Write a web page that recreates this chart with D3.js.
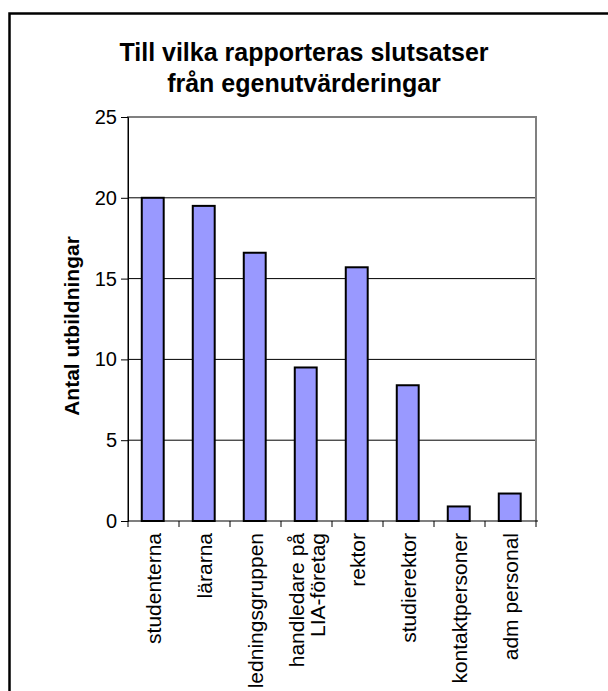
<!DOCTYPE html>
<html>
<head>
<meta charset="utf-8">
<script src="https://cdn.jsdelivr.net/npm/d3@7"></script>
<style>
  html, body { margin: 0; background: #fff; overflow: hidden; }
  svg { display: block; }
  svg text { font-family: Arial, "Liberation Sans", sans-serif; fill: #000; }
</style>
</head>
<body>
<div id="chart"></div>
<script>
const categories = ['studenterna', 'lärarna', 'ledningsgruppen', 'handledare på\nLIA-företag',
  'rektor', 'studierektor', 'kontaktpersoner', 'adm personal'];
const values = [20, 19.5, 16.6, 9.5, 15.7, 8.4, 0.9, 1.7];
const yTicks = [0, 5, 10, 15, 20, 25];
const titleLines = ['Till vilka rapporteras slutsatser', 'från egenutvärderingar'];
const yTitle = 'Antal utbildningar';

const width = 608, height = 691;
const margin = { t: 117, r: 72, b: 170, l: 128 };
const w = width - margin.l - margin.r;
const h = height - margin.t - margin.b;

const svg = d3.select('#chart').append('svg')
  .attr('width', width)
  .attr('height', height);

// outer frame (runs off the right/bottom edge like the original)
svg.append('rect')
  .attr('x', 9.5).attr('y', 13.5)
  .attr('width', 620).attr('height', 700)
  .attr('fill', 'none')
  .attr('stroke', '#000')
  .attr('stroke-width', 2.5);

svg.append('text')
  .attr('text-anchor', 'middle')
  .style('font-weight', 'bold')
  .style('font-size', '25px')
  .selectAll('tspan')
  .data(titleLines)
  .enter().append('tspan')
  .attr('x', 304)
  .attr('y', (d, i) => 61 + i * 31)
  .text(d => d);

const plot = svg.append('g')
  .attr('transform', `translate(${margin.l},${margin.t})`);

const scaleX = d3.scaleBand()
  .domain(categories)
  .range([0, w]);

const scaleY = d3.scaleLinear()
  .domain([0, 25])
  .range([h, 0]);

// gridlines
plot.append('g')
  .selectAll('line')
  .data(yTicks.filter(d => d > 0 && d < 25))
  .enter().append('line')
  .attr('x1', 0).attr('x2', w)
  .attr('y1', d => scaleY(d)).attr('y2', d => scaleY(d))
  .attr('stroke', '#000')
  .attr('stroke-width', 1);

// plot frame (grey)
plot.append('path')
  .attr('d', `M0,${h}V0H${w}V${h}`)
  .attr('fill', 'none')
  .attr('stroke', '#808080')
  .attr('stroke-width', 2);

plot.selectAll('.bar')
  .data(values)
  .enter().append('rect')
  .attr('class', 'bar')
  .attr('x', (d, i) => scaleX(categories[i]) + scaleX.bandwidth() * 0.27)
  .attr('width', scaleX.bandwidth() * 0.43)
  .attr('y', d => scaleY(d))
  .attr('height', d => scaleY(0) - scaleY(d))
  .attr('fill', '#9999ff')
  .attr('stroke', '#000')
  .attr('stroke-width', 2);

const axisY = d3.axisLeft(scaleY)
  .tickValues(yTicks)
  .tickSize(7)
  .tickPadding(4);

const axisYNode = plot.append('g').call(axisY);
axisYNode.select('.domain').attr('stroke', '#000');
axisYNode.selectAll('.tick line').attr('stroke', '#000');
axisYNode.selectAll('text')
  .style('font-size', '20px')
  .attr('fill', '#000');

// x axis: ticks at band edges
const axisXNode = plot.append('g')
  .attr('transform', `translate(0,${h})`);
axisXNode.append('line')
  .attr('x1', 0).attr('x2', w + 2)
  .attr('stroke', '#000').attr('stroke-width', 1.2);
axisXNode.selectAll('.xtick')
  .data(categories.concat(['_end']))
  .enter().append('line')
  .attr('x1', (d, i) => i * scaleX.step())
  .attr('x2', (d, i) => i * scaleX.step())
  .attr('y1', 0).attr('y2', 6)
  .attr('stroke', '#000');

const labels = axisXNode.selectAll('.xlabel')
  .data(categories)
  .enter().append('text')
  .attr('class', 'xlabel')
  .attr('transform', d => `translate(${scaleX(d) + scaleX.bandwidth() / 2},12) rotate(-90)`)
  .attr('text-anchor', 'end')
  .style('font-size', '21px');

labels.each(function(d) {
  const lines = d.split('\n');
  const n = lines.length;
  d3.select(this).selectAll('tspan')
    .data(lines)
    .enter().append('tspan')
    .attr('x', 0)
    .attr('y', (l, j) => (j - (n - 1) / 2) * 21 + 7.5)
    .text(l => l);
});

svg.append('text')
  .attr('transform', `translate(79,326) rotate(-90)`)
  .attr('text-anchor', 'middle')
  .style('font-weight', 'bold')
  .style('font-size', '21px')
  .text(yTitle);
</script>
</body>
</html>
